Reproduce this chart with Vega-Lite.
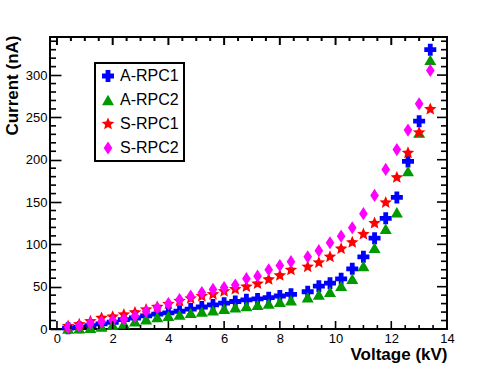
{
  "$schema": "https://vega.github.io/schema/vega-lite/v6.json",
  "width": 397,
  "height": 292,
  "autosize": {"type": "none"},
  "padding": {"left": 50, "top": 37, "right": 51, "bottom": 38},
  "background": "white",
  "config": {
    "view": {"stroke": "black", "strokeWidth": 2},
    "font": "Liberation Sans",
    "axis": {
      "grid": false,
      "ticks": false,
      "domain": false,
      "labelColor": "black",
      "labelFont": "Liberation Sans",
      "labelFontSize": 13,
      "labelOverlap": false,
      "labelFlush": false,
      "labelPadding": 3,
      "titleColor": "black",
      "titleFont": "Liberation Sans",
      "titleFontWeight": "bold",
      "titleFontSize": 17
    },
    "legend": {
      "orient": "none",
      "legendX": 45,
      "legendY": 26,
      "strokeColor": "black",
      "strokeWidth": 2,
      "fillColor": "white",
      "padding": 5,
      "rowPadding": 8,
      "labelFont": "Liberation Sans",
      "labelFontSize": 16,
      "labelColor": "black",
      "labelOffset": 4,
      "symbolSize": 144,
      "symbolStrokeWidth": 0
    }
  },
  "datasets": {
    "xmaj": [{"t": 0}, {"t": 2}, {"t": 4}, {"t": 6}, {"t": 8}, {"t": 10}, {"t": 12}, {"t": 14}],
    "xmin": [{"t": 0.5}, {"t": 1}, {"t": 1.5}, {"t": 2.5}, {"t": 3}, {"t": 3.5}, {"t": 4.5}, {"t": 5}, {"t": 5.5}, {"t": 6.5}, {"t": 7}, {"t": 7.5}, {"t": 8.5}, {"t": 9}, {"t": 9.5}, {"t": 10.5}, {"t": 11}, {"t": 11.5}, {"t": 12.5}, {"t": 13}, {"t": 13.5}],
    "ymaj": [{"t": 0}, {"t": 50}, {"t": 100}, {"t": 150}, {"t": 200}, {"t": 250}, {"t": 300}],
    "ymin": [{"t": 10}, {"t": 20}, {"t": 30}, {"t": 40}, {"t": 60}, {"t": 70}, {"t": 80}, {"t": 90}, {"t": 110}, {"t": 120}, {"t": 130}, {"t": 140}, {"t": 160}, {"t": 170}, {"t": 180}, {"t": 190}, {"t": 210}, {"t": 220}, {"t": 230}, {"t": 240}, {"t": 260}, {"t": 270}, {"t": 280}, {"t": 290}, {"t": 310}, {"t": 320}, {"t": 330}, {"t": 340}],
    "pts": [
      {"s": "A-RPC1", "v": 0.4, "i": 1.0}, {"s": "A-RPC1", "v": 0.8, "i": 2.2}, {"s": "A-RPC1", "v": 1.2, "i": 4.0}, {"s": "A-RPC1", "v": 1.6, "i": 6.0},
      {"s": "A-RPC1", "v": 2.0, "i": 8.0}, {"s": "A-RPC1", "v": 2.4, "i": 11.0}, {"s": "A-RPC1", "v": 2.8, "i": 13.0}, {"s": "A-RPC1", "v": 3.2, "i": 15.5},
      {"s": "A-RPC1", "v": 3.6, "i": 17.5}, {"s": "A-RPC1", "v": 4.0, "i": 19.0}, {"s": "A-RPC1", "v": 4.4, "i": 21.0}, {"s": "A-RPC1", "v": 4.8, "i": 23.5},
      {"s": "A-RPC1", "v": 5.2, "i": 26.0}, {"s": "A-RPC1", "v": 5.6, "i": 28.5}, {"s": "A-RPC1", "v": 6.0, "i": 30.5}, {"s": "A-RPC1", "v": 6.4, "i": 32.5},
      {"s": "A-RPC1", "v": 6.8, "i": 34.5}, {"s": "A-RPC1", "v": 7.2, "i": 35.5}, {"s": "A-RPC1", "v": 7.6, "i": 37.0}, {"s": "A-RPC1", "v": 8.0, "i": 39.0},
      {"s": "A-RPC1", "v": 8.4, "i": 41.0}, {"s": "A-RPC1", "v": 9.0, "i": 44.0}, {"s": "A-RPC1", "v": 9.4, "i": 50.6}, {"s": "A-RPC1", "v": 9.8, "i": 54.2},
      {"s": "A-RPC1", "v": 10.2, "i": 59.3}, {"s": "A-RPC1", "v": 10.6, "i": 71.1}, {"s": "A-RPC1", "v": 11.0, "i": 85.3}, {"s": "A-RPC1", "v": 11.4, "i": 107.3},
      {"s": "A-RPC1", "v": 11.8, "i": 130.8}, {"s": "A-RPC1", "v": 12.2, "i": 155.5}, {"s": "A-RPC1", "v": 12.6, "i": 198.0}, {"s": "A-RPC1", "v": 13.0, "i": 245.6},
      {"s": "A-RPC1", "v": 13.4, "i": 330.0},
      {"s": "A-RPC2", "v": 0.4, "i": 0.5}, {"s": "A-RPC2", "v": 0.8, "i": 0.8}, {"s": "A-RPC2", "v": 1.2, "i": 1.5}, {"s": "A-RPC2", "v": 1.6, "i": 3.0},
      {"s": "A-RPC2", "v": 2.0, "i": 5.0}, {"s": "A-RPC2", "v": 2.4, "i": 6.5}, {"s": "A-RPC2", "v": 2.8, "i": 9.0}, {"s": "A-RPC2", "v": 3.2, "i": 11.5},
      {"s": "A-RPC2", "v": 3.6, "i": 14.0}, {"s": "A-RPC2", "v": 4.0, "i": 15.5}, {"s": "A-RPC2", "v": 4.4, "i": 17.0}, {"s": "A-RPC2", "v": 4.8, "i": 19.0},
      {"s": "A-RPC2", "v": 5.2, "i": 20.5}, {"s": "A-RPC2", "v": 5.6, "i": 22.0}, {"s": "A-RPC2", "v": 6.0, "i": 24.0}, {"s": "A-RPC2", "v": 6.4, "i": 25.5},
      {"s": "A-RPC2", "v": 6.8, "i": 27.0}, {"s": "A-RPC2", "v": 7.2, "i": 28.5}, {"s": "A-RPC2", "v": 7.6, "i": 30.0}, {"s": "A-RPC2", "v": 8.0, "i": 32.0},
      {"s": "A-RPC2", "v": 8.4, "i": 34.0}, {"s": "A-RPC2", "v": 9.0, "i": 37.5}, {"s": "A-RPC2", "v": 9.4, "i": 40.8}, {"s": "A-RPC2", "v": 9.8, "i": 44.0},
      {"s": "A-RPC2", "v": 10.2, "i": 51.0}, {"s": "A-RPC2", "v": 10.6, "i": 59.3}, {"s": "A-RPC2", "v": 11.0, "i": 74.5}, {"s": "A-RPC2", "v": 11.4, "i": 96.0},
      {"s": "A-RPC2", "v": 11.8, "i": 118.5}, {"s": "A-RPC2", "v": 12.2, "i": 138.0}, {"s": "A-RPC2", "v": 12.6, "i": 186.5}, {"s": "A-RPC2", "v": 13.0, "i": 232.0},
      {"s": "A-RPC2", "v": 13.4, "i": 318.0},
      {"s": "S-RPC1", "v": 0.4, "i": 3.5}, {"s": "S-RPC1", "v": 0.8, "i": 5.5}, {"s": "S-RPC1", "v": 1.2, "i": 9.0}, {"s": "S-RPC1", "v": 1.6, "i": 13.0},
      {"s": "S-RPC1", "v": 2.0, "i": 14.5}, {"s": "S-RPC1", "v": 2.4, "i": 17.0}, {"s": "S-RPC1", "v": 2.8, "i": 19.5}, {"s": "S-RPC1", "v": 3.2, "i": 23.0},
      {"s": "S-RPC1", "v": 3.6, "i": 26.0}, {"s": "S-RPC1", "v": 4.0, "i": 29.5}, {"s": "S-RPC1", "v": 4.4, "i": 33.0}, {"s": "S-RPC1", "v": 4.8, "i": 36.0},
      {"s": "S-RPC1", "v": 5.2, "i": 38.8}, {"s": "S-RPC1", "v": 5.6, "i": 41.0}, {"s": "S-RPC1", "v": 6.0, "i": 44.5}, {"s": "S-RPC1", "v": 6.4, "i": 47.0},
      {"s": "S-RPC1", "v": 6.8, "i": 50.0}, {"s": "S-RPC1", "v": 7.2, "i": 53.5}, {"s": "S-RPC1", "v": 7.6, "i": 58.5}, {"s": "S-RPC1", "v": 8.0, "i": 63.2},
      {"s": "S-RPC1", "v": 8.4, "i": 69.8}, {"s": "S-RPC1", "v": 9.0, "i": 73.5}, {"s": "S-RPC1", "v": 9.4, "i": 78.5}, {"s": "S-RPC1", "v": 9.8, "i": 85.3},
      {"s": "S-RPC1", "v": 10.2, "i": 94.8}, {"s": "S-RPC1", "v": 10.6, "i": 102.3}, {"s": "S-RPC1", "v": 11.0, "i": 112.0}, {"s": "S-RPC1", "v": 11.4, "i": 125.0},
      {"s": "S-RPC1", "v": 11.8, "i": 149.3}, {"s": "S-RPC1", "v": 12.2, "i": 179.0}, {"s": "S-RPC1", "v": 12.6, "i": 208.0}, {"s": "S-RPC1", "v": 13.0, "i": 232.0},
      {"s": "S-RPC1", "v": 13.4, "i": 259.7},
      {"s": "S-RPC2", "v": 0.4, "i": 2.0}, {"s": "S-RPC2", "v": 0.8, "i": 3.5}, {"s": "S-RPC2", "v": 1.2, "i": 7.0}, {"s": "S-RPC2", "v": 1.6, "i": 8.5},
      {"s": "S-RPC2", "v": 2.0, "i": 10.0}, {"s": "S-RPC2", "v": 2.4, "i": 11.5}, {"s": "S-RPC2", "v": 2.8, "i": 15.3}, {"s": "S-RPC2", "v": 3.2, "i": 21.0},
      {"s": "S-RPC2", "v": 3.6, "i": 25.0}, {"s": "S-RPC2", "v": 4.0, "i": 30.0}, {"s": "S-RPC2", "v": 4.4, "i": 34.8}, {"s": "S-RPC2", "v": 4.8, "i": 38.8},
      {"s": "S-RPC2", "v": 5.2, "i": 43.0}, {"s": "S-RPC2", "v": 5.6, "i": 46.7}, {"s": "S-RPC2", "v": 6.0, "i": 49.0}, {"s": "S-RPC2", "v": 6.4, "i": 52.0},
      {"s": "S-RPC2", "v": 6.8, "i": 59.5}, {"s": "S-RPC2", "v": 7.2, "i": 62.4}, {"s": "S-RPC2", "v": 7.6, "i": 70.0}, {"s": "S-RPC2", "v": 8.0, "i": 75.0},
      {"s": "S-RPC2", "v": 8.4, "i": 79.5}, {"s": "S-RPC2", "v": 9.0, "i": 85.3}, {"s": "S-RPC2", "v": 9.4, "i": 92.5}, {"s": "S-RPC2", "v": 9.8, "i": 101.9},
      {"s": "S-RPC2", "v": 10.2, "i": 109.7}, {"s": "S-RPC2", "v": 10.6, "i": 119.6}, {"s": "S-RPC2", "v": 11.0, "i": 136.2}, {"s": "S-RPC2", "v": 11.4, "i": 157.8},
      {"s": "S-RPC2", "v": 11.8, "i": 188.5}, {"s": "S-RPC2", "v": 12.2, "i": 212.0}, {"s": "S-RPC2", "v": 12.6, "i": 235.0}, {"s": "S-RPC2", "v": 13.0, "i": 266.0},
      {"s": "S-RPC2", "v": 13.4, "i": 305.5}
    ]
  },
  "layer": [
    {
      "data": {"name": "pts"},
      "mark": {"type": "point", "filled": true, "opacity": 1, "strokeWidth": 0, "size": 144},
      "encoding": {
        "x": {
          "field": "v", "type": "quantitative",
          "scale": {"domain": [-0.25, 14], "nice": false, "zero": false},
          "axis": {
            "orient": "bottom",
            "values": [0, 2, 4, 6, 8, 10, 12, 14],
            "format": "d",
            "title": "Voltage (kV)",
            "titleAnchor": "end",
            "titleAlign": "right",
            "titleX": 397,
            "titleY": 30,
            "titleBaseline": "alphabetic"
          }
        },
        "y": {
          "field": "i", "type": "quantitative",
          "scale": {"domain": [0, 345], "nice": false, "zero": false},
          "axis": {
            "orient": "left",
            "values": [0, 50, 100, 150, 200, 250, 300],
            "format": "d",
            "ticks": true,
            "tickSize": -11,
            "tickColor": "black",
            "tickWidth": 1.6,
            "labelPadding": 14,
            "title": "Current (nA)",
            "titleAnchor": "end",
            "titleAngle": -90,
            "titleAlign": "right",
            "titleX": -33,
            "titleY": -2,
            "titleBaseline": "alphabetic"
          }
        },
        "color": {
          "field": "s", "type": "nominal",
          "scale": {"domain": ["A-RPC1", "A-RPC2", "S-RPC1", "S-RPC2"], "range": ["#0000ff", "#009900", "#ff0000", "#ff00ff"]},
          "legend": {"title": null}
        },
        "shape": {
          "field": "s", "type": "nominal",
          "scale": {"domain": ["A-RPC1", "A-RPC2", "S-RPC1", "S-RPC2"], "range": ["cross", "triangle-up", "M0,-1.1L0.29,-0.4L1.046,-0.34L0.471,0.153L0.647,0.89L0,0.495L-0.647,0.89L-0.471,0.153L-1.046,-0.34L-0.29,-0.4Z", "M0,-1.1L0.72,0L0,1.1L-0.72,0Z"]},
          "legend": {"title": null}
        }
      }
    },
    {
      "data": {"name": "xmaj"},
      "mark": {"type": "point", "shape": "M-0.2,-1L0.2,-1L0.2,1L-0.2,1Z", "filled": true, "size": 64, "strokeWidth": 0, "yOffset": -4, "color": "black", "opacity": 1},
      "encoding": {"x": {"field": "t", "type": "quantitative"}, "y": {"datum": 0}}
    },
    {
      "data": {"name": "xmin"},
      "mark": {"type": "point", "shape": "M-0.4,-1L0.4,-1L0.4,1L-0.4,1Z", "filled": true, "size": 16, "strokeWidth": 0, "yOffset": -2, "color": "black", "opacity": 1},
      "encoding": {"x": {"field": "t", "type": "quantitative"}, "y": {"datum": 0}}
    },
    {
      "data": {"name": "xmaj"},
      "mark": {"type": "tick", "orient": "vertical", "size": 8, "thickness": 2, "yOffset": 4, "color": "black", "opacity": 1},
      "encoding": {"x": {"field": "t", "type": "quantitative"}, "y": {"datum": 345}}
    },
    {
      "data": {"name": "xmin"},
      "mark": {"type": "tick", "orient": "vertical", "size": 4, "thickness": 2, "yOffset": 2, "color": "black", "opacity": 1},
      "encoding": {"x": {"field": "t", "type": "quantitative"}, "y": {"datum": 345}}
    },
    {
      "data": {"name": "ymin"},
      "mark": {"type": "point", "shape": "M-1,-0.27L1,-0.27L1,0.27L-1,0.27Z", "filled": true, "size": 36, "strokeWidth": 0, "xOffset": 3, "color": "black", "opacity": 1},
      "encoding": {"y": {"field": "t", "type": "quantitative"}, "x": {"datum": -0.25}}
    },
    {
      "data": {"name": "ymaj"},
      "mark": {"type": "point", "shape": "M-1,-0.16L1,-0.16L1,0.16L-1,0.16Z", "filled": true, "size": 100, "strokeWidth": 0, "xOffset": -5, "color": "black", "opacity": 1},
      "encoding": {"y": {"field": "t", "type": "quantitative"}, "x": {"datum": 14}}
    },
    {
      "data": {"name": "ymin"},
      "mark": {"type": "point", "shape": "M-1,-0.27L1,-0.27L1,0.27L-1,0.27Z", "filled": true, "size": 36, "strokeWidth": 0, "xOffset": -3, "color": "black", "opacity": 1},
      "encoding": {"y": {"field": "t", "type": "quantitative"}, "x": {"datum": 14}}
    }
  ]
}
